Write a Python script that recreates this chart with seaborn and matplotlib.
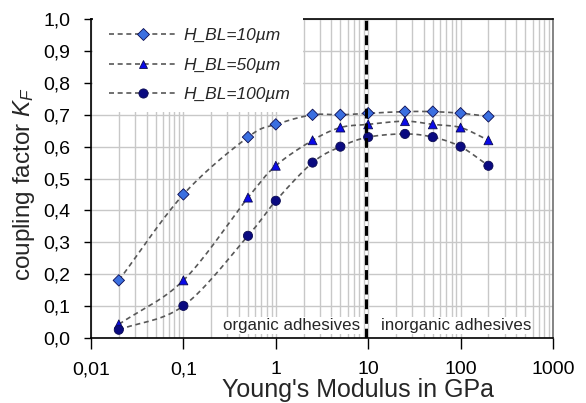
import numpy as np
import pandas as pd
import matplotlib
matplotlib.use("Agg")
import matplotlib.pyplot as plt
from matplotlib.lines import Line2D
from matplotlib.patches import Rectangle
from matplotlib.ticker import FixedLocator, LogLocator, NullFormatter
import seaborn as sns

# ---------------- data ----------------
modulus = [0.02, 0.1, 0.5, 1, 2.5, 5, 10, 25, 50, 100, 200]
kf_10 = [0.18, 0.45, 0.63, 0.67, 0.70, 0.70, 0.705, 0.71, 0.71, 0.705, 0.695]
kf_50 = [0.042, 0.18, 0.44, 0.54, 0.62, 0.66, 0.67, 0.68, 0.67, 0.66, 0.62]
kf_100 = [0.025, 0.10, 0.32, 0.43, 0.55, 0.60, 0.63, 0.64, 0.63, 0.60, 0.54]
series_labels = ["H_BL=10µm", "H_BL=50µm", "H_BL=100µm"]
x_ticks = [0.01, 0.1, 1, 10, 100, 1000]
x_ticklabels = ["0,01", "0,1", "1", "10", "100", "1000"]
y_ticks = [0.0, 0.1, 0.2, 0.3, 0.4, 0.5, 0.6, 0.7, 0.8, 0.9, 1.0]
y_ticklabels = ["0,0", "0,1", "0,2", "0,3", "0,4", "0,5", "0,6", "0,7", "0,8", "0,9", "1,0"]
boundary_x = 9.5
region_labels = ["organic adhesives", "inorganic adhesives"]
region_label_x = [1.48, 89]

# ---------------- style ----------------
sns.set_theme(style="white")
plt.rcParams["font.family"] = ["Liberation Sans", "DejaVu Sans"]
plt.rcParams["mathtext.fontset"] = "custom"
plt.rcParams["mathtext.rm"] = "Liberation Sans"
plt.rcParams["mathtext.it"] = "Liberation Sans:italic"

colors = ["#3B6FE0", "#0A0AE8", "#0A0A80"]
markers = ["D", "^", "o"]
msizes = [5.8, 6.4, 6.6]
line_col = "#585858"

df = pd.DataFrame({
    "E": modulus * 3,
    "KF": kf_10 + kf_50 + kf_100,
    "series": sum([[lab] * len(modulus) for lab in series_labels], []),
})

fig = plt.figure(figsize=(5.86, 4.03), dpi=100)
ax = fig.add_axes([91 / 586, 1 - 337.7 / 403, 462 / 586, 318.4 / 403])
ax.set_xscale("log")


def smooth(xs, ys, n=30):
    """Catmull-Rom curve in (log x, y) space for drawing a smoothed line."""
    lx = np.log10(np.asarray(xs, float))
    yy = np.asarray(ys, float)
    P = np.column_stack([lx, yy])
    P = np.vstack([2 * P[0] - P[1], P, 2 * P[-1] - P[-2]])
    out = []
    t = np.linspace(0, 1, n)[:, None]
    for i in range(1, len(P) - 2):
        p0, p1, p2, p3 = P[i - 1], P[i], P[i + 1], P[i + 2]
        m1 = (p2 - p0) / 2
        m2 = (p3 - p1) / 2
        h00 = 2 * t**3 - 3 * t**2 + 1
        h10 = t**3 - 2 * t**2 + t
        h01 = -2 * t**3 + 3 * t**2
        h11 = t**3 - t**2
        out.append(h00 * p1 + h10 * m1 + h01 * p2 + h11 * m2)
    C = np.vstack(out)
    return 10 ** C[:, 0], C[:, 1]


for vals in [kf_10, kf_50, kf_100]:
    sx, sy = smooth(modulus, vals)
    ax.plot(sx, sy, color=line_col, lw=1.2, dashes=(3, 2.2), zorder=3)

sns.scatterplot(data=df, x="E", y="KF", hue="series", style="series",
                palette=dict(zip(series_labels, colors)),
                markers=dict(zip(series_labels, markers)),
                size="series", sizes=dict(zip(series_labels, [m**2 for m in msizes])),
                edgecolor="#0A0A50", linewidth=0.6, legend=False, ax=ax, zorder=4)

ax.axvline(boundary_x, color="black", lw=2.2, dashes=(3.2, 1.6), zorder=5)

ax.set_xlim(0.01, 1000)
ax.set_ylim(0, 1.0)
ax.xaxis.set_major_locator(FixedLocator(x_ticks))
ax.set_xticklabels(x_ticklabels)
ax.xaxis.set_minor_locator(LogLocator(base=10, subs=np.arange(2, 10)))
ax.xaxis.set_minor_formatter(NullFormatter())
ax.set_yticks(y_ticks)
ax.set_yticklabels(y_ticklabels)

ax.grid(True, which="major", axis="both", color="#C8C8C8", lw=1.0, zorder=0)
ax.grid(True, which="minor", axis="x", color="#C8C8C8", lw=1.0, zorder=0)
ax.set_axisbelow(True)

ax.tick_params(axis="both", which="major", direction="out", labelsize=14,
               colors="black", left=True, bottom=True)
ax.tick_params(axis="y", which="major", length=5, width=1, pad=10)
ax.tick_params(axis="x", which="major", length=8, width=1, pad=9)
ax.tick_params(axis="x", which="minor", length=0)

for side in ["left", "bottom", "top"]:
    ax.spines[side].set_color("black")
    ax.spines[side].set_linewidth(1.2)
ax.spines["right"].set_color("#707070")
ax.spines["right"].set_linewidth(1.2)

ax.set_xlabel("Young's Modulus in GPa", fontsize=18)
ax.xaxis.set_label_coords(0.578, -0.125)
ax.set_ylabel("coupling factor $K_F$", fontsize=17.5)
ax.yaxis.set_label_coords(-0.117, 0.484)

# region annotations
for lab, xp in zip(region_labels, region_label_x):
    ax.text(xp, 0.024, lab, fontsize=12.2, ha="center", va="baseline",
            bbox=dict(facecolor="white", edgecolor="none", pad=1.0), zorder=4)

# white legend area
ax.add_patch(Rectangle((0.004, 0.7 + 0.0095), 0.454, 0.3, transform=ax.transAxes,
                       facecolor="white", edgecolor="none", zorder=2.6, clip_on=False))

handles = [Line2D([0], [0], color=line_col, lw=1.2, dashes=(3, 2.2), marker=m,
                  markersize=ms, markerfacecolor=c, markeredgecolor="#0A0A50",
                  markeredgewidth=0.6)
           for m, c, ms in zip(markers, colors, msizes)]
leg = ax.legend(handles, series_labels, loc="upper left", bbox_to_anchor=(0.012, 1.01),
                frameon=False, prop={"size": 12.5, "style": "italic"},
                handlelength=3.9, handletextpad=0.4, labelspacing=0.82,
                borderaxespad=0.3)
leg.set_zorder(6)

fig.savefig("out.png", dpi=100)
